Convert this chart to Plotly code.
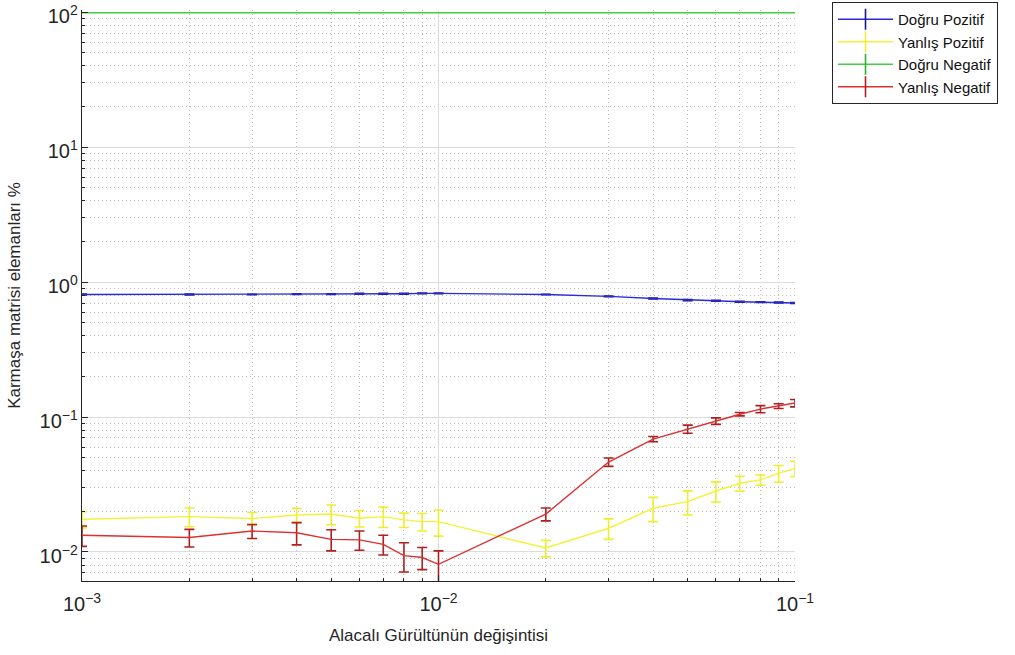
import plotly.graph_objects as go

x_vals = [0.001, 0.002, 0.003, 0.004, 0.005, 0.006, 0.007, 0.008, 0.009, 0.01,
          0.02, 0.03, 0.04, 0.05, 0.06, 0.07, 0.08, 0.09, 0.1]

tp_vals = [0.81, 0.81, 0.81, 0.815, 0.815, 0.82, 0.82, 0.82, 0.825, 0.825,
           0.81, 0.785, 0.757, 0.736, 0.728, 0.716, 0.712, 0.707, 0.70]
tp_err = [0.006, 0.006, 0.004, 0.004, 0.006, 0.006, 0.006, 0.006, 0.004, 0.004,
          0.004, 0.004, 0.006, 0.006, 0.006, 0.006, 0.004, 0.006, 0.006]

fp_vals = [0.0175, 0.0183, 0.0177, 0.0188, 0.0191, 0.0178, 0.0183, 0.0173, 0.0168, 0.0168,
           0.0107, 0.0150, 0.0211, 0.0236, 0.0283, 0.0323, 0.0342, 0.0383, 0.0417]
fp_err = [0.0024, 0.0029, 0.0019, 0.0023, 0.0032, 0.0025, 0.0031, 0.0021, 0.0025, 0.0037,
          0.0015, 0.0026, 0.0043, 0.0048, 0.0048, 0.0041, 0.0030, 0.0054, 0.0054]

tn_vals = [99.2] * 19
tn_err = [0.0] * 19

fn_vals = [0.0133, 0.0128, 0.0143, 0.0139, 0.0124, 0.0123, 0.0114, 0.0094, 0.0091, 0.0081,
           0.0191, 0.0464, 0.0687, 0.0815, 0.0934, 0.1050, 0.1146, 0.1206, 0.1270]
fn_err = [0.0023, 0.0019, 0.0017, 0.0026, 0.0022, 0.0020, 0.0019, 0.0023, 0.0017, 0.0021,
          0.0021, 0.0033, 0.0030, 0.0057, 0.0052, 0.0030, 0.0070, 0.0048, 0.0080]

series = [
    ("Doğru Pozitif", tp_vals, tp_err, "#2a2ad8", "#1a1a90", True),
    ("Yanlış Pozitif", fp_vals, fp_err, "#f2f23a", "#eeee30", True),
    ("Doğru Negatif", tn_vals, tn_err, "#44cc44", "#30b030", False),
    ("Yanlış Negatif", fn_vals, fn_err, "#dd3030", "#b02020", True),
]

fig = go.Figure()
for name, vals, err, lc, ec, show_err in series:
    fig.add_trace(go.Scatter(
        x=x_vals, y=vals, mode="lines", name=name, showlegend=False,
        line=dict(color=lc, width=1.4),
        error_y=dict(type="data", array=err, visible=show_err, color=ec, thickness=1.6, width=5),
    ))

for i, (name, vals, err, lc, ec, show_err) in enumerate(series):
    fig.add_trace(go.Scatter(
        x=[None], y=[None], mode="lines+markers", name=name, legendgroup=f"g{i}",
        line=dict(color=lc, width=1.4),
        marker=dict(symbol="line-ns-open", size=15, color=ec, line=dict(color=ec, width=1.6)),
    ))

font_family = "Liberation Sans, Arial, sans-serif"
axis_common = dict(
    type="log", dtick=1, exponentformat="power", showline=True, linecolor="#262626",
    linewidth=1, ticks="inside", ticklen=6, tickcolor="#262626", showgrid=True,
    gridcolor="#dcdcdc", gridwidth=1, zeroline=False, mirror=False, automargin=False,
    ticklabeloverflow="allow",
    tickfont=dict(family=font_family, size=16, color="#262626"),
    minor=dict(ticks="inside", ticklen=3, tickcolor="#262626", showgrid=True,
               gridcolor="#bdbdbd", griddash="1px,3px", gridwidth=1),
)

fig.update_layout(
    width=1015, height=655,
    margin=dict(l=82, r=220, t=10, b=74),
    paper_bgcolor="white", plot_bgcolor="white",
    font=dict(family=font_family, color="#262626"),
    xaxis=dict(axis_common, range=[-3, -1], ticklabelstandoff=6,
               title=dict(text="Alacalı Gürültünün değişintisi", font=dict(size=17), standoff=14)),
    yaxis=dict(axis_common, range=[-2.215, 2.017], ticklabelshift=4,
               labelalias={"1": "10<sup>0</sup>", "10": "10<sup>1</sup>"},
               title=dict(text="Karmaşa matrisi elemanları %", font=dict(size=17), standoff=14)),
    legend=dict(xref="container", yref="container", x=832 / 1015, y=1 - 2 / 655,
                xanchor="left", yanchor="top",
                bordercolor="#262626", borderwidth=1, bgcolor="white",
                font=dict(family=font_family, size=15, color="#111111"),
                itemwidth=55, tracegroupgap=0),
)

fig.write_html("out.html")
